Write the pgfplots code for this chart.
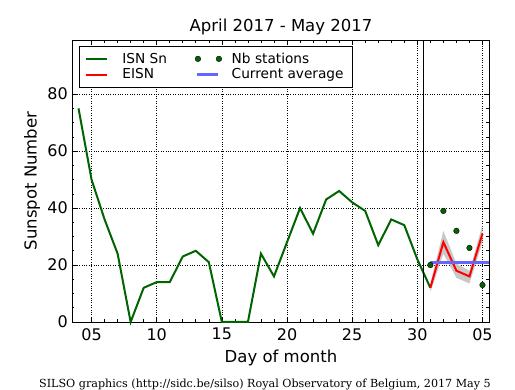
\documentclass[border=0pt]{standalone}
\usepackage{fontspec}
\setmainfont{DejaVu Sans}
\newfontfamily\footfont{DejaVu Serif}
\usepackage{pgfplots}
\pgfplotsset{compat=1.18}
\definecolor{isngreen}{RGB}{0,100,0}
\definecolor{avgblue}{RGB}{102,102,255}
\definecolor{bandgray}{RGB}{200,200,200}
\pgfplotsset{
  linelegend/.style={legend image code/.code={\draw[##1] (0pt,0pt) -- (21pt,0pt);}},
  dotslegend/.style={legend image code/.code={\draw[##1] plot coordinates {(1pt,0pt) (22pt,0pt)};}},
}
\begin{document}
\begin{tikzpicture}
\path[use as bounding box] (-72pt,-68pt) rectangle (443pt,322pt);
\begin{axis}[
  at={(0pt,0pt)}, anchor=south west,
  scale only axis, width=417pt, height=282pt,
  xmin=3.5, xmax=35.5, ymin=0, ymax=99,
  xtick={5,10,15,20,25,30,35}, xticklabels={05,10,15,20,25,30,05},
  ytick={0,20,40,60,80},
  minor x tick num=4, minor y tick num=3,
  tick align=inside,
  major tick length=5pt, minor tick length=2.5pt,
  every tick/.style={black, line width=0.6pt},
  grid=major, major grid style={black, dotted, line width=0.6pt},
  axis line style={line width=0.8pt},
  ticklabel style={font=\fontsize{16}{19}\selectfont},
  /pgf/number format/assume math mode=true,
  yticklabel style={anchor=east, inner sep=0pt, xshift=-4pt},
  xticklabel style={anchor=north, inner sep=0pt, yshift=-6pt},
  clip=false,
  legend columns=2,
  legend cell align=left,
  linelegend,
  legend style={at={(0.0168,0.9787)}, anchor=north west, draw=black, line width=0.8pt,
    font=\fontsize{13.7}{15}\selectfont, inner xsep=6pt, inner ysep=4.5pt, row sep=0pt,
    /tikz/column 1/.style={column sep=11pt},
    /tikz/column 2/.style={column sep=25pt},
    /tikz/column 3/.style={column sep=7pt},
    nodes={inner xsep=3pt}},
]
% uncertainty band of EISN
\addplot[fill=bandgray, draw=none, forget plot] coordinates {
  (31,13.5) (32,32) (33,20.5) (34,18) (35,34)
  (35,28) (34,13.5) (33,15.5) (32,24) (31,10.5)} -- cycle;
% ISN Sn
\addplot[isngreen, line width=2pt, forget plot] coordinates {
  (4,75) (5,50) (6,36) (7,24) (8,0) (9,12) (10,14) (11,14) (12,23) (13,25)
  (14,21) (15,0) (16,0) (17,0) (18,24) (19,16) (20,28) (21,40) (22,31) (23,43)
  (24,46) (25,42) (26,39) (27,27) (28,36) (29,34) (30,22) (31,12)};
% EISN
\addplot[red, line width=2pt, forget plot] coordinates {
  (31,12) (32,28) (33,18) (34,16) (35,31)};
% Current average
\addplot[avgblue, line width=3pt, forget plot] coordinates {(31,21) (35.5,21)};
% Nb stations
\addplot[only marks, mark=*, mark size=2.8pt, mark options={fill=isngreen, draw=black, line width=0.4pt}, forget plot] coordinates {
  (31,20) (32,39) (33,32) (34,26) (35,13)};
% separator
\addplot[black, line width=1.2pt, forget plot] coordinates {(30.5,0) (30.5,99)};
% legend
\addlegendimage{isngreen, line width=2pt}
\addlegendentry{ISN Sn}
\addlegendimage{only marks, mark=*, mark size=2.8pt, mark options={fill=isngreen, draw=black, line width=0.4pt}, dotslegend}
\addlegendentry{Nb stations}
\addlegendimage{red, line width=2pt}
\addlegendentry{EISN}
\addlegendimage{avgblue, line width=3pt}
\addlegendentry{Current average}
\end{axis}
\node[anchor=base, inner sep=0pt, font=\fontsize{16.5}{19}\selectfont] at (209pt,290.3pt) {April 2017 - May 2017};
\node[anchor=base, inner sep=0pt, font=\fontsize{16.5}{19}\selectfont] at (209pt,-41pt) {Day of month};
\node[rotate=90, inner sep=0pt, font=\fontsize{16.5}{19}\selectfont] at (-40pt,141pt) {Sunspot Number};
\node[anchor=base, inner sep=0pt, font=\footfont\fontsize{11.15}{13}\selectfont] at (193pt,-66pt) {SILSO graphics (http://sidc.be/silso) Royal Observatory of Belgium, 2017 May 5};
\end{tikzpicture}
\end{document}
